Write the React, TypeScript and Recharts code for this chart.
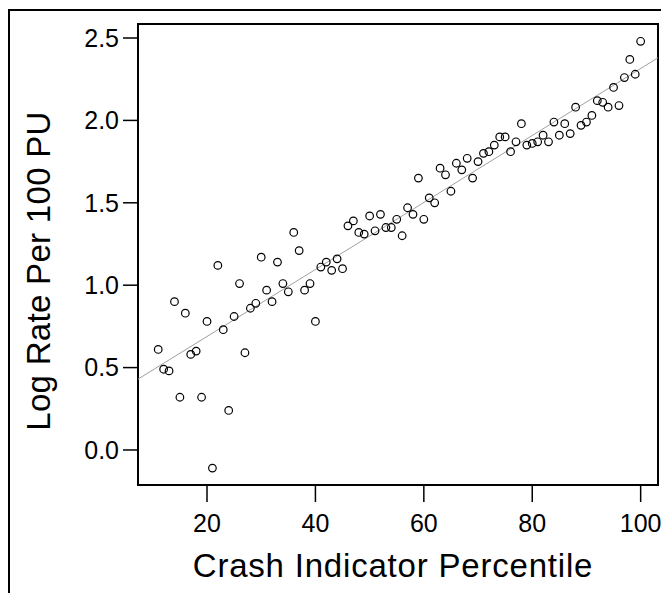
import React from 'react'
import {
  ScatterChart,
  Scatter,
  XAxis,
  YAxis,
  ReferenceArea,
  ReferenceLine,
} from 'recharts'

// crash indicator percentile (x) and log rate per 100 PU (y)
const PERCENTILES = [
  11, 12, 13, 14, 15, 16, 17, 18, 19, 20,
  21, 22, 23, 24, 25, 26, 27, 28, 29, 30,
  31, 32, 33, 34, 35, 36, 37, 38, 39, 40,
  41, 42, 43, 44, 45, 46, 47, 48, 49, 50,
  51, 52, 53, 54, 55, 56, 57, 58, 59, 60,
  61, 62, 63, 64, 65, 66, 67, 68, 69, 70,
  71, 72, 73, 74, 75, 76, 77, 78, 79, 80,
  81, 82, 83, 84, 85, 86, 87, 88, 89, 90,
  91, 92, 93, 94, 95, 96, 97, 98, 99, 100,
]

const LOG_RATES = [
  0.61, 0.49, 0.48, 0.9, 0.32, 0.83, 0.58, 0.6, 0.32, 0.78,
  -0.11, 1.12, 0.73, 0.24, 0.81, 1.01, 0.59, 0.86, 0.89, 1.17,
  0.97, 0.9, 1.14, 1.01, 0.96, 1.32, 1.21, 0.97, 1.01, 0.78,
  1.11, 1.14, 1.09, 1.16, 1.1, 1.36, 1.39, 1.32, 1.31, 1.42,
  1.33, 1.43, 1.35, 1.35, 1.4, 1.3, 1.47, 1.43, 1.65, 1.4,
  1.53, 1.5, 1.71, 1.67, 1.57, 1.74, 1.7, 1.77, 1.65, 1.75,
  1.8, 1.81, 1.85, 1.9, 1.9, 1.81, 1.87, 1.98, 1.85, 1.86,
  1.87, 1.91, 1.87, 1.99, 1.91, 1.98, 1.92, 2.08, 1.97, 1.99,
  2.03, 2.12, 2.11, 2.08, 2.2, 2.09, 2.26, 2.37, 2.28, 2.48,
]

// fitted line, end points read at the plot edges
const FIT_LINE = [
  { x: 7.27, y: 0.43 },
  { x: 103.2, y: 2.38 },
]

const X_TICKS = [20, 40, 60, 80, 100]
const Y_TICKS = [0, 0.5, 1, 1.5, 2, 2.5]

const X_DOMAIN: [number, number] = [7.27, 103.2]
const Y_DOMAIN: [number, number] = [-0.2125, 2.585]

const FONT = '"Liberation Sans", Arial, sans-serif'

const points = PERCENTILES.map((x, i) => ({ x, y: LOG_RATES[i] }))

const Ring = (props: any) => {
  const { cx, cy } = props
  if (cx == null || cy == null) return null
  return <circle cx={cx} cy={cy} r={3.8} fill="none" stroke="#000" strokeWidth={1.2} />
}

export default function App() {
  return (
    <div style={{ position: 'relative', width: 661, height: 593, background: '#fff', overflow: 'hidden' }}>
      <style>{'body{margin:0}'}</style>
      <div
        style={{
          position: 'absolute',
          left: 8,
          top: 9,
          width: 700,
          height: 700,
          borderTop: '2px solid #000',
          borderLeft: '2px solid #000',
        }}
      />
      <ScatterChart
        width={661}
        height={593}
        margin={{ top: 24, right: 3, bottom: 0, left: 0 }}
        style={{ position: 'absolute', left: 0, top: 0 }}
      >
        <XAxis
          type="number"
          dataKey="x"
          domain={X_DOMAIN}
          ticks={X_TICKS}
          allowDataOverflow
          height={108}
          axisLine={false}
          tickSize={17}
          tickMargin={12}
          tickLine={{ stroke: '#000', strokeWidth: 1.5 }}
          tick={{ fill: '#000', fontSize: 25, fontFamily: FONT }}
          label={{
            content: () => (
              <text
                x={393}
                y={577}
                textAnchor="middle"
                fontSize={33}
                letterSpacing={0.8}
                fontFamily={FONT}
                fill="#000"
              >
                Crash Indicator Percentile
              </text>
            ),
          }}
        />
        <YAxis
          type="number"
          dataKey="y"
          domain={Y_DOMAIN}
          ticks={Y_TICKS}
          allowDataOverflow
          width={138}
          axisLine={false}
          tickSize={15}
          tickMargin={4}
          tickLine={{ stroke: '#000', strokeWidth: 1.5 }}
          tick={{ fill: '#000', fontSize: 25, fontFamily: FONT }}
          tickFormatter={(v: number) => v.toFixed(1)}
          label={{
            content: () => (
              <text
                x={50}
                y={271}
                transform="rotate(-90, 50, 271)"
                textAnchor="middle"
                fontSize={33}
                letterSpacing={0.3}
                fontFamily={FONT}
                fill="#000"
              >
                Log Rate Per 100 PU
              </text>
            ),
          }}
        />
        <ReferenceLine
          segment={FIT_LINE}
          stroke="#a0a0a0"
          strokeWidth={1}
          ifOverflow="hidden"
        />
        <Scatter data={points} shape={Ring} isAnimationActive={false} />
        <ReferenceArea
          x1={X_DOMAIN[0]}
          x2={X_DOMAIN[1]}
          y1={Y_DOMAIN[0]}
          y2={Y_DOMAIN[1]}
          fill="none"
          fillOpacity={0}
          stroke="#000"
          strokeWidth={2}
          ifOverflow="visible"
        />
      </ScatterChart>
    </div>
  )
}
